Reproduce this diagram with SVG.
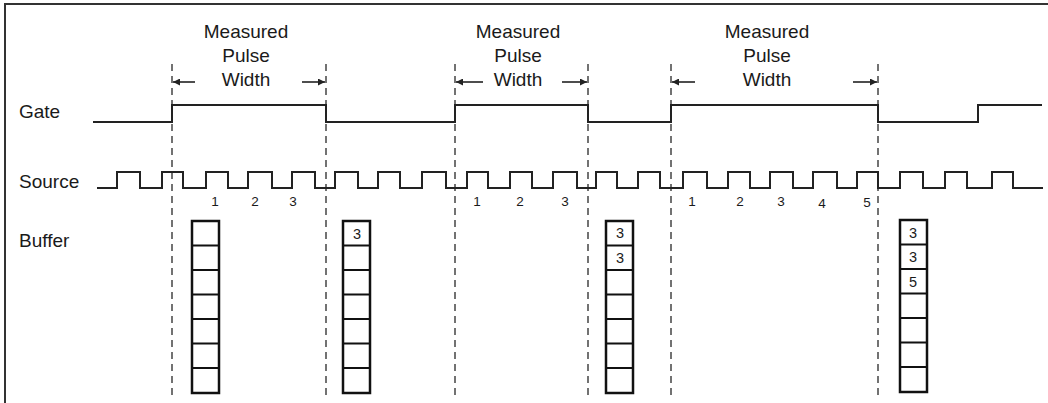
<svg xmlns="http://www.w3.org/2000/svg" width="1048" height="403" viewBox="0 0 1048 403">
<defs>
<marker id="ah" viewBox="0 0 10 10" refX="10" refY="5" markerWidth="10" markerHeight="7" markerUnits="userSpaceOnUse" orient="auto-start-reverse">
<path d="M0 0 L10 5 L0 10 Z" fill="#222"/>
</marker>
</defs>
<style>
.t{font-family:"Liberation Sans",Arial,sans-serif;font-size:19px;fill:#1a1a1a}
.n{font-family:"Liberation Sans",Arial,sans-serif;font-size:13.5px;fill:#1a1a1a;text-anchor:middle}
.b{font-family:"Liberation Sans",Arial,sans-serif;font-size:14.5px;fill:#1a1a1a;text-anchor:middle}
.c{text-anchor:middle}
.w{fill:none;stroke:#222;stroke-width:2}
.d{stroke:#444;stroke-width:1.5;stroke-dasharray:7 5;fill:none}
.a{stroke:#222;stroke-width:1.6;fill:none;marker-end:url(#ah)}
.box{fill:#fff;stroke:#111;stroke-width:2.5}
.cell{stroke:#111;stroke-width:2}
</style>
<rect x="5" y="4" width="1100" height="500" fill="#fff" stroke="#333" stroke-width="2"/>

<g id="labels">
<text class="t" x="19" y="118">Gate</text>
<text class="t" x="19" y="188">Source</text>
<text class="t" x="19" y="247">Buffer</text>
</g>

<g id="pulse1">
<text class="t c" x="246" y="38">Measured</text>
<text class="t c" x="246" y="62">Pulse</text>
<text class="t c" x="246" y="86">Width</text>
</g>
<g id="pulse2">
<text class="t c" x="518" y="38">Measured</text>
<text class="t c" x="518" y="62">Pulse</text>
<text class="t c" x="518" y="86">Width</text>
</g>
<g id="pulse3">
<text class="t c" x="767" y="38">Measured</text>
<text class="t c" x="767" y="62">Pulse</text>
<text class="t c" x="767" y="86">Width</text>
</g>

<g id="connectors">
<line class="d" x1="172" y1="64" x2="172" y2="396"/>
<line class="d" x1="326" y1="64" x2="326" y2="396"/>
<line class="d" x1="455" y1="64" x2="455" y2="396"/>
<line class="d" x1="588" y1="64" x2="588" y2="396"/>
<line class="d" x1="671" y1="64" x2="671" y2="396"/>
<line class="d" x1="878" y1="64" x2="878" y2="396"/>
<line class="a" x1="195" y1="82" x2="173" y2="82"/>
<line class="a" x1="302" y1="82" x2="325" y2="82"/>
<line class="a" x1="483" y1="82" x2="456" y2="82"/>
<line class="a" x1="562" y1="82" x2="587" y2="82"/>
<line class="a" x1="695" y1="82" x2="672" y2="82"/>
<line class="a" x1="853" y1="82" x2="877" y2="82"/>
</g>

<g id="gate">
<path class="w" d="M93 122 H172 V105 H326 V122 H455 V105 H588 V122 H671 V105 H878 V122 H978 V105 H1042"/>
</g>

<g id="source">
<path class="w" d="M97 188 H117 V172 H140 V188 H162 V172 H183 V188 H206 V172 H228 V188 H248 V172 H272 V188 H292 V172 H315 V188 H335 V172 H358 V188 H378 V172 H400 V188 H422 V172 H446 V188 H467 V172 H488 V188 H510 V172 H532 V188 H553 V172 H577 V188 H596 V172 H617 V188 H638 V172 H660 V188 H683 V172 H707 V188 H728 V172 H750 V188 H770 V172 H793 V188 H813 V172 H837 V188 H857 V172 H878 V188 H900 V172 H923 V188 H945 V172 H967 V188 H992 V172 H1013 V188 H1043"/>
</g>

<g id="counts">
<text class="n" x="215" y="206">1</text>
<text class="n" x="255" y="206">2</text>
<text class="n" x="293" y="206">3</text>
<text class="n" x="477" y="206">1</text>
<text class="n" x="520" y="206">2</text>
<text class="n" x="565" y="206">3</text>
<text class="n" x="692" y="206">1</text>
<text class="n" x="740" y="206">2</text>
<text class="n" x="781" y="206">3</text>
<text class="n" x="822" y="208">4</text>
<text class="n" x="867" y="207">5</text>
</g>

<g id="buffer1">
<rect class="box" x="192" y="221" width="27" height="172"/>
<path class="cell" d="M192 245.5 H219 M192 270 H219 M192 294.5 H219 M192 319 H219 M192 343.5 H219 M192 368 H219"/>
</g>
<g id="buffer2">
<rect class="box" x="343" y="221" width="27" height="172"/>
<path class="cell" d="M343 245.5 H370 M343 270 H370 M343 294.5 H370 M343 319 H370 M343 343.5 H370 M343 368 H370"/>
<text class="b" x="357" y="239">3</text>
</g>
<g id="buffer3">
<rect class="box" x="606" y="221" width="27" height="172"/>
<path class="cell" d="M606 245.5 H633 M606 270 H633 M606 294.5 H633 M606 319 H633 M606 343.5 H633 M606 368 H633"/>
<text class="b" x="620" y="238">3</text>
<text class="b" x="620" y="263">3</text>
</g>
<g id="buffer4">
<rect class="box" x="900" y="220" width="27" height="172"/>
<path class="cell" d="M900 244.5 H927 M900 269 H927 M900 293.5 H927 M900 318 H927 M900 342.5 H927 M900 367 H927"/>
<text class="b" x="913" y="238">3</text>
<text class="b" x="913" y="262">3</text>
<text class="b" x="913" y="287">5</text>
</g>
</svg>
